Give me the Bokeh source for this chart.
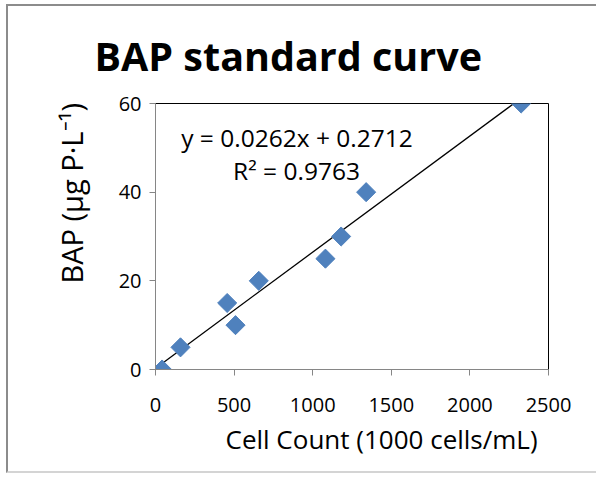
import numpy as np
from bokeh.plotting import figure
from bokeh.models import Label, Range1d, FixedTicker, Title
from bokeh.embed import file_html
from bokeh.resources import INLINE

# Data
cell_count = [42, 159, 456, 509, 657, 1081, 1181, 1340, 2326]
bap = [0, 5, 15, 10, 20, 25, 30, 40, 60]
slope = 0.0262
intercept = 0.2712
r_squared = 0.9763
x_ticks = [0, 500, 1000, 1500, 2000, 2500]
y_ticks = [0, 20, 40, 60]

FONT = "Open Sans"

p = figure(width=590, height=469, output_backend="svg", toolbar_location=None,
           x_range=Range1d(0, 2500), y_range=Range1d(0, 60),
           min_border_left=147, min_border_right=50,
           min_border_top=97, min_border_bottom=106,
           styles={"border-left": "2px solid #8c8c8c",
                   "border-top": "2px solid #8c8c8c",
                   "border-bottom": "2px solid #d4d4d4",
                   "margin-left": "6px", "margin-top": "4px"})
p.xgrid.visible = False
p.ygrid.visible = False
p.outline_line_color = "black"
p.outline_line_width = 1
p.background_fill_color = "white"
p.border_fill_color = "white"

for ax, ticks in ((p.xaxis[0], x_ticks), (p.yaxis[0], y_ticks)):
    ax.ticker = FixedTicker(ticks=ticks)
    ax.minor_tick_line_color = None
    ax.axis_line_color = "#868686"
    ax.major_tick_line_color = "#868686"
    ax.major_tick_in = 0
    ax.major_tick_out = 6
    ax.major_label_text_font = FONT
    ax.major_label_text_font_size = "20px"
    ax.major_label_text_color = "black"
p.xaxis.major_label_standoff = 22
p.yaxis.major_label_standoff = 8

# trendline
xs = np.array([min(cell_count), max(cell_count)])
p.line(xs, slope * xs + intercept, line_color="black", line_width=1.3)

# points (Excel diamond = rotated square)
p.scatter(cell_count, bap, marker="square", angle=np.pi / 4, size=13.5,
          fill_color="#4F81BD", line_color="#4F81BD")

# equation labels
p.add_layout(Label(x=900, y=52.3, text=f"y = {slope}x + {intercept}",
                   text_font=FONT, text_font_size="24.5px", text_color="black",
                   text_align="center", text_baseline="middle"))
p.add_layout(Label(x=897, y=44.8, text=f"R² = {r_squared}",
                   text_font=FONT, text_font_size="24.5px", text_color="black",
                   text_align="center", text_baseline="middle"))

# chart title
p.title.text = "BAP standard curve"
p.title.text_font = FONT
p.title.text_font_style = "bold"
p.title.text_font_size = "39.5px"
p.title.text_color = "black"
p.title.text_line_height = 1.0
p.title.align = "left"
p.title.offset = -61
p.title.standoff = 41

# axis titles as side titles
p.add_layout(Title(text="Cell Count (1000 cells/mL)", text_font=FONT,
                   text_font_style="normal", text_font_size="26px",
                   text_color="black",
                   align="left", offset=70, standoff=8), "below")
p.add_layout(Title(text="BAP (µg P·L⁻¹)", text_font=FONT,
                   text_font_style="normal", text_font_size="29px",
                   text_color="black",
                   align="left", offset=86, standoff=49), "left")

open("out.html", "w").write(file_html(p, INLINE))
